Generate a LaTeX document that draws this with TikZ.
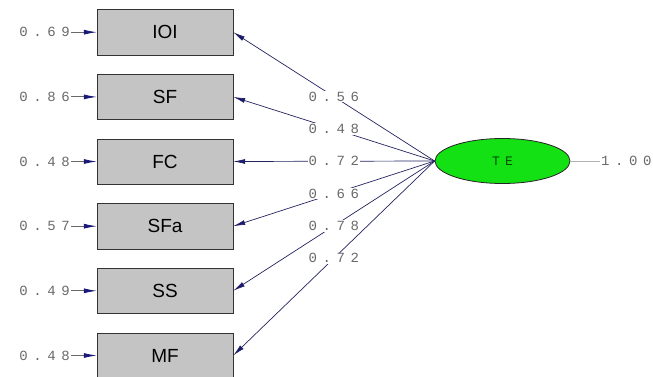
\documentclass[tikz,border=0pt]{standalone}
\usepackage{fontspec}
\setmainfont{Liberation Sans}
\newfontfamily\valfont[LetterSpace=40]{Liberation Mono}
\usepackage{tikz}
\usetikzlibrary{arrows.meta,positioning,shapes}

\definecolor{pathnavy}{RGB}{35,35,95}
\definecolor{tipnavy}{RGB}{25,25,120}
\definecolor{valgray}{RGB}{105,105,105}
\definecolor{boxgray}{RGB}{196,196,196}
\definecolor{latgreen}{RGB}{20,225,20}

\begin{document}
\begin{tikzpicture}[x=1pt,y=-1pt,
	obs/.style={draw=black!80,fill=boxgray,minimum width=136pt,minimum height=45.5pt,inner sep=0pt,font=\fontsize{19}{19}\selectfont},
	val/.style={text=valgray,font=\valfont\fontsize{14}{14}\selectfont,inner sep=1pt},
	load/.style={draw=pathnavy,line width=0.7pt,-{Latex[length=12pt,width=5pt,fill=tipnavy]}},
	errarrow/.style={draw=valgray,line width=0.8pt,-{Latex[length=13pt,width=5pt,color=tipnavy]}}]
		\useasboundingbox (0,0) rectangle (653,377);
		
		\foreach \nm/\y/\err in {IOI/32.2/0.69,SF/96.9/0.86,FC/161.5/0.48,SFa/226.2/0.57,SS/290.8/0.49,MF/355.5/0.48} {
			\node[obs] (\nm) at (165,\y) {\nm};
			\node[val,anchor=east] (e\nm) at (71,\y) {\err};
			\draw[errarrow] (e\nm) -- (\nm);
		}
		
		\node[ellipse,draw=black!85,line width=0.8pt,fill=latgreen,minimum width=135pt,minimum height=45pt,inner sep=0pt,
		  text=green!30!black,font=\valfont\fontsize{13}{13}\selectfont] (TE) at (502.5,161) {TE};
		\node[val,anchor=west] (vTE) at (600,161) {1.00};
		\draw[black!30,line width=0.7pt] (TE) -- (vTE);
		
		\foreach \nm/\l in {IOI/0.56,SF/0.48,FC/0.72,SFa/0.66,SS/0.78,MF/0.72}
			\draw[load] (TE.west) -- node[val,fill=white,pos=0.5] {\l} (\nm.east);
		\end{tikzpicture}
\end{document}
